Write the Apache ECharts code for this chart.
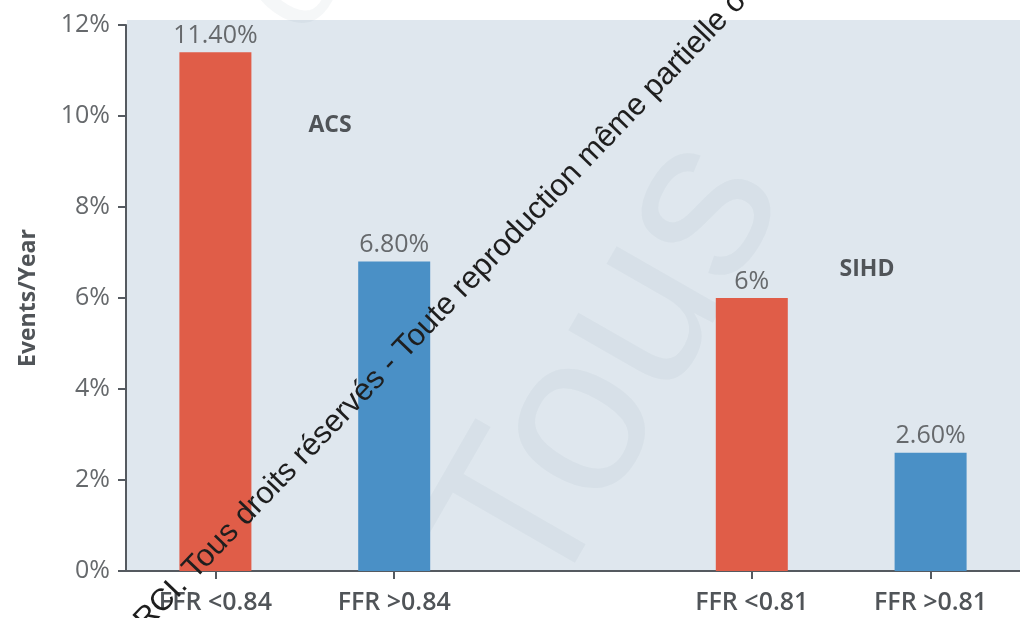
<!DOCTYPE html>
<html>
<head>
<meta charset="utf-8">
<style>
  html, body { margin: 0; padding: 0; background: #ffffff; }
  #chart { width: 1020px; height: 618px; }
</style>
<script src="https://cdn.jsdelivr.net/npm/echarts@6/dist/echarts.min.js"></script>
</head>
<body>
<div id="chart"></div>
<script>
// Groups of FFR cut-offs; the empty slot separates ACS from SIHD
const categories = ['FFR <0.84', 'FFR >0.84', '', 'FFR <0.81', 'FFR >0.81'];
// Events per year, in percent
const eventRates = [11.4, 6.8, null, 6, 2.6];
// Value axis ticks (percent)
const yTicks = [0, 2, 4, 6, 8, 10, 12];
// Group captions
const groupNames = ['ACS', 'SIHD'];

const RED = '#e05d48';
const BLUE = '#4a90c6';
const PANEL = '#dfe7ee';
const AXIS = '#555a60';
const TEXT = '#66696c';
const DARK = '#505458';
const FONT = '"Open Sans", "Noto Sans", sans-serif';
const WM_FONT = '"Liberation Sans", Arial, sans-serif';

const chart = echarts.init(document.getElementById('chart'), null, { renderer: 'canvas' });

function pctLabel(v) {
  return (Math.round(v) === v ? String(v) : v.toFixed(2)) + '%';
}

const option = {
  animation: false,
  backgroundColor: '#ffffff',
  grid: { left: 126, right: -6, top: 25, bottom: 47, containLabel: false },
  xAxis: {
    type: 'category',
    data: categories,
    boundaryGap: true,
    axisLine: { show: true, lineStyle: { color: AXIS, width: 2 } },
    axisTick: {
      show: true, alignWithLabel: true, length: 8,
      interval: (i, v) => v !== '',
      lineStyle: { color: AXIS, width: 2 }
    },
    axisLabel: {
      interval: 0, margin: 19, color: DARK,
      fontFamily: FONT, fontSize: 25, fontWeight: 600
    },
    splitLine: { show: false }
  },
  yAxis: {
    type: 'value',
    min: yTicks[0],
    max: yTicks[yTicks.length - 1],
    interval: yTicks[1] - yTicks[0],
    name: 'Events/Year',
    nameLocation: 'middle',
    nameGap: 86,
    nameRotate: 90,
    nameTextStyle: { color: DARK, fontFamily: FONT, fontSize: 23, fontWeight: 700 },
    axisLine: { show: true, lineStyle: { color: AXIS, width: 2 } },
    axisTick: { show: true, length: 8, lineStyle: { color: AXIS, width: 2 } },
    axisLabel: {
      formatter: '{value}%', margin: 16, color: TEXT,
      fontFamily: FONT, fontSize: 25
    },
    splitLine: { show: false }
  },
  graphic: [
    // shaded plot panel
    {
      type: 'rect', z: 0, silent: true,
      shape: { x: 127, y: 20, width: 900, height: 551 },
      style: { fill: PANEL }
    },
    // faint background lettering
    {
      type: 'text', z: 1, silent: true,
      x: 590, y: 640, rotation: 1.05,
      style: {
        text: 'Tous', fill: 'rgba(120,135,150,0.07)',
        font: '230px ' + WM_FONT,
        textAlign: 'left', textVerticalAlign: 'bottom'
      }
    },
    {
      type: 'text', z: 1, silent: true,
      x: 330, y: 60, rotation: 0.95,
      style: {
        text: 'o', fill: 'rgba(120,135,150,0.07)',
        font: '150px ' + WM_FONT,
        textAlign: 'left', textVerticalAlign: 'bottom'
      }
    },
    {
      type: 'text', z: 100,
      x: 330, y: 125,
      style: {
        text: groupNames[0], fill: DARK,
        font: '700 23px ' + FONT,
        textAlign: 'center', textVerticalAlign: 'middle'
      }
    },
    {
      type: 'text', z: 100,
      x: 867, y: 269,
      style: {
        text: groupNames[1], fill: DARK,
        font: '700 23px ' + FONT,
        textAlign: 'center', textVerticalAlign: 'middle'
      }
    },
    // copyright line across the plot
    {
      type: 'text', z: 100, silent: true,
      x: 124, y: 642, rotation: 0.808,
      style: {
        text: '©RCI. Tous droits réservés - Toute reproduction même partielle ou totale interdite',
        fill: '#1e1e1e',
        font: '31px ' + WM_FONT,
        textAlign: 'left', textVerticalAlign: 'middle'
      }
    }
  ],
  series: [
    {
      type: 'bar',
      data: eventRates,
      barWidth: 72,
      z: 3,
      itemStyle: {
        color: (p) => (p.name.indexOf('<') >= 0 ? RED : BLUE)
      },
      label: {
        show: true,
        position: 'top',
        distance: 4,
        color: TEXT,
        fontFamily: FONT,
        fontSize: 25,
        formatter: (p) => (p.value == null ? '' : pctLabel(p.value))
      }
    }
  ]
};

chart.setOption(option);
</script>
</body>
</html>
